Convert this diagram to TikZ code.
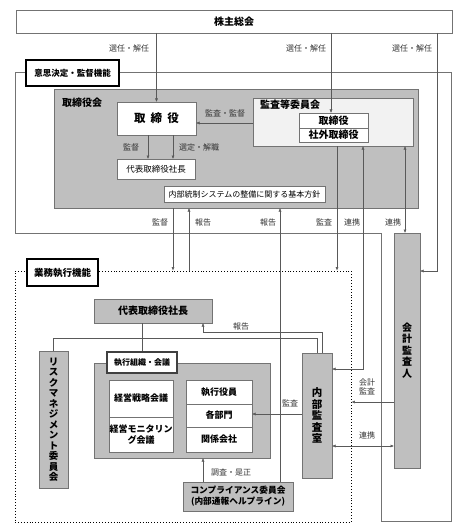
\documentclass[tikz,border=0pt]{standalone}
\usepackage{fontspec}
\setmainfont{Noto Sans CJK JP}
\usetikzlibrary{arrows.meta}

\begin{document}
\begin{tikzpicture}[x=1pt,y=-1pt,
  box/.style={draw=black!55,inner sep=0pt,outer sep=0pt,align=center,font=\fontsize{9}{11}\selectfont\bfseries},
  whitebox/.style={box,fill=white},
  graybox/.style={box,fill=black!25},
  tagbox/.style={draw=black,line width=1.4pt,fill=white,inner sep=0pt,font=\fontsize{8.5}{10}\selectfont\bfseries},
  lbl/.style={inner sep=0pt,align=center,font=\fontsize{8}{9.5}\selectfont,text=black!80},
  con/.style={draw=black!65,line width=0.5pt},
  arr/.style={con,-{Latex[length=3.5pt,width=3pt]}},
  darr/.style={con,{Latex[length=3.5pt,width=3pt]}-{Latex[length=3.5pt,width=3pt]}},
]
\useasboundingbox (0,0) rectangle (466,532);

% frames
\draw[con,draw=black!55] (15,72) -- (451,72) -- (451,521) -- (381,521) -- (381,233) -- (15,233) -- cycle;
\node[draw=black,dotted,line width=0.9pt,inner sep=0pt,minimum width=336,minimum height=251] (gyomu) at (183,396.5) {};

% top
\node[whitebox,minimum width=436,minimum height=23,font=\fontsize{10}{12}\selectfont\bfseries] (kabu) at (234,21.5) {株主総会};
\node[tagbox,minimum width=93,minimum height=26] (kettei) at (72.5,73) {意思決定・監督機能};

% board
\node[graybox,minimum width=364,minimum height=119] (torikai) at (236,148.5) {};
\node[lbl,anchor=west,font=\fontsize{10}{12}\selectfont\bfseries,text=black] (torikaiTxt) at (62,103) {取締役会};
\node[whitebox,minimum width=79,minimum height=33,font=\fontsize{11.5}{13}\selectfont\bfseries] (tori) at (156.5,118.5) {取\hspace{0.45em}締\hspace{0.45em}役};
\node[whitebox,minimum width=78,minimum height=20,font=\fontsize{8.5}{10}\selectfont] (daihyoA) at (156,169) {代表取締役社長};
\node[box,fill=black!5,minimum width=160,minimum height=48] (kansa) at (333,122) {};
\node[lbl,anchor=west,font=\fontsize{10}{12}\selectfont\bfseries,text=black] (kansaTxt) at (260,105) {監査等委員会};
\node[whitebox,minimum width=69,minimum height=15,font=\fontsize{10}{12}\selectfont\bfseries] (kansaTori) at (333.5,120.5) {取締役};
\node[whitebox,minimum width=69,minimum height=14,font=\fontsize{10}{12}\selectfont\bfseries] (shagai) at (333.5,135) {社外取締役};
\node[whitebox,minimum width=161,minimum height=16,font=\fontsize{8}{10}\selectfont] (kihon) at (244.5,194) {内部統制システムの整備に関する基本方針};

% execution
\node[tagbox,minimum width=71,minimum height=27,font=\fontsize{9.5}{11}\selectfont\bfseries] (gyomuTag) at (62.5,272.5) {業務執行機能};
\node[graybox,minimum width=26,minimum height=235,font=\fontsize{10}{11.5}\selectfont\bfseries] (kaikei) at (407,350.5) {会\\計\\監\\査\\人};
\node[graybox,minimum width=118,minimum height=24,font=\fontsize{10}{12}\selectfont\bfseries] (daihyoB) at (153,311) {代表取締役社長};
\node[graybox,minimum width=29,minimum height=137,font=\fontsize{9.5}{10.5}\selectfont\bfseries] (risk) at (53.5,419.5) {リ\\ス\\ク\\マ\\ネ\\ジ\\メ\\ン\\ト\\委\\員\\会};
\node[graybox,minimum width=176,minimum height=95] (shikko) at (182,410.5) {};
\node[draw=black!75,line width=1.6pt,fill=white,inner sep=0pt,minimum width=70,minimum height=21,font=\fontsize{8}{10}\selectfont\bfseries] (shikkoTag) at (142,362.5) {執行組織・会議};
\node[whitebox,minimum width=64,minimum height=37] (senryaku) at (141,398.5) {経営戦略会議};
\node[whitebox,minimum width=64,minimum height=35] (monitor) at (141,434.5) {経営モニタリン\\グ会議};
\node[whitebox,minimum width=66,minimum height=24] (yakuin) at (219,392) {執行役員};
\node[whitebox,minimum width=66,minimum height=23] (bumon) at (219,415.5) {各部門};
\node[whitebox,minimum width=66,minimum height=25] (kankei) at (219,439.5) {関係会社};
\node[graybox,minimum width=30,minimum height=125,font=\fontsize{10.5}{11.5}\selectfont\bfseries] (naibu) at (317,415.5) {内\\部\\監\\査\\室};
\node[graybox,minimum width=110,minimum height=29,font=\fontsize{8.7}{11}\selectfont\bfseries] (comp) at (238,496.5) {コンプライアンス委員会\\(内部通報ヘルプライン)};

% from shareholders
\coordinate (s2) at (331,0);
\coordinate (s3) at (437,0);
\draw[arr] (kabu.south -| tori.north) -- (tori.north);
\draw[arr] (kabu.south -| s2) -- (kansaTori.north -| s2);
\draw[arr] (kabu.south -| s3) -- (s3 |- 0,271) -- (kaikei.east |- 0,271);
\node[lbl] (sen1) at (129,48) {選任・解任};
\node[lbl] (sen2) at (306,48) {選任・解任};
\node[lbl] (sen3) at (412,48) {選任・解任};

% inside board
\draw[arr] (kansa.west |- 0,123) -- (tori.east |- 0,123);
\node[lbl] (kansaKantoku) at (225,113) {監査・監督};
\draw[arr] (tori.south -| 148,0) -- (daihyoA.north -| 148,0);
\draw[arr] (tori.south -| 173,0) -- (daihyoA.north -| 173,0);
\node[lbl] (kantokuA) at (131,147) {監督};
\node[lbl] (sentei) at (199,147) {選定・解職};

% board <-> execution
\draw[arr] (torikai.south -| 173,0) -- (gyomu.north -| 173,0);
\draw[arr] (gyomu.north -| 189,0) -- (torikai.south -| 189,0);
\draw[arr] (comp.north -| 280,0) -- (torikai.south -| 280,0);
\draw[arr] (kansa.south -| 337,0) -- (gyomu.north -| 337,0);
\draw[darr] (naibu.east |- 0,369) -| (kansa.south -| 363,0);
\draw[darr] (kansa.south -| 405,0) -- (kaikei.north -| 405,0);
\node[lbl] (kantokuB) at (160,222) {監督};
\node[lbl] (hokokuA) at (203,222) {報告};
\node[lbl] (hokokuB) at (268,222) {報告};
\node[lbl] (kansaA) at (324,222) {監査};
\node[lbl] (renkeiA) at (352,222) {連携};
\node[lbl] (renkeiB) at (393,222) {連携};

% execution
\draw[arr] (naibu.north -| 322,0) |- (203,332) -- (daihyoB.south -| 203,0);
\node[lbl] (hokokuC) at (241,326) {報告};
\draw[con] (daihyoB.south -| shikkoTag.north) -- (shikkoTag.north);
\draw[con] (risk.north) |- (317,338) -- (naibu.north -| 317,0);
\draw[arr] (naibu.west |- 0,414) -- (bumon.east |- 0,414);
\node[lbl] (kansaB) at (290,403) {監査};
\draw[arr] (kaikei.west |- 0,402) -- (gyomu.east |- 0,402);
\node[lbl] (kaikeiKansa) at (367,387) {会計\\監査};
\draw[darr] (naibu.east |- 0,446) -- (kaikei.west |- 0,446);
\node[lbl] (renkeiC) at (367,435) {連携};
\draw[arr] (comp.north -| 203,0) -- (shikko.south -| 203,0);
\node[lbl] (chosa) at (231,472) {調査・是正};
\end{tikzpicture}
\end{document}
